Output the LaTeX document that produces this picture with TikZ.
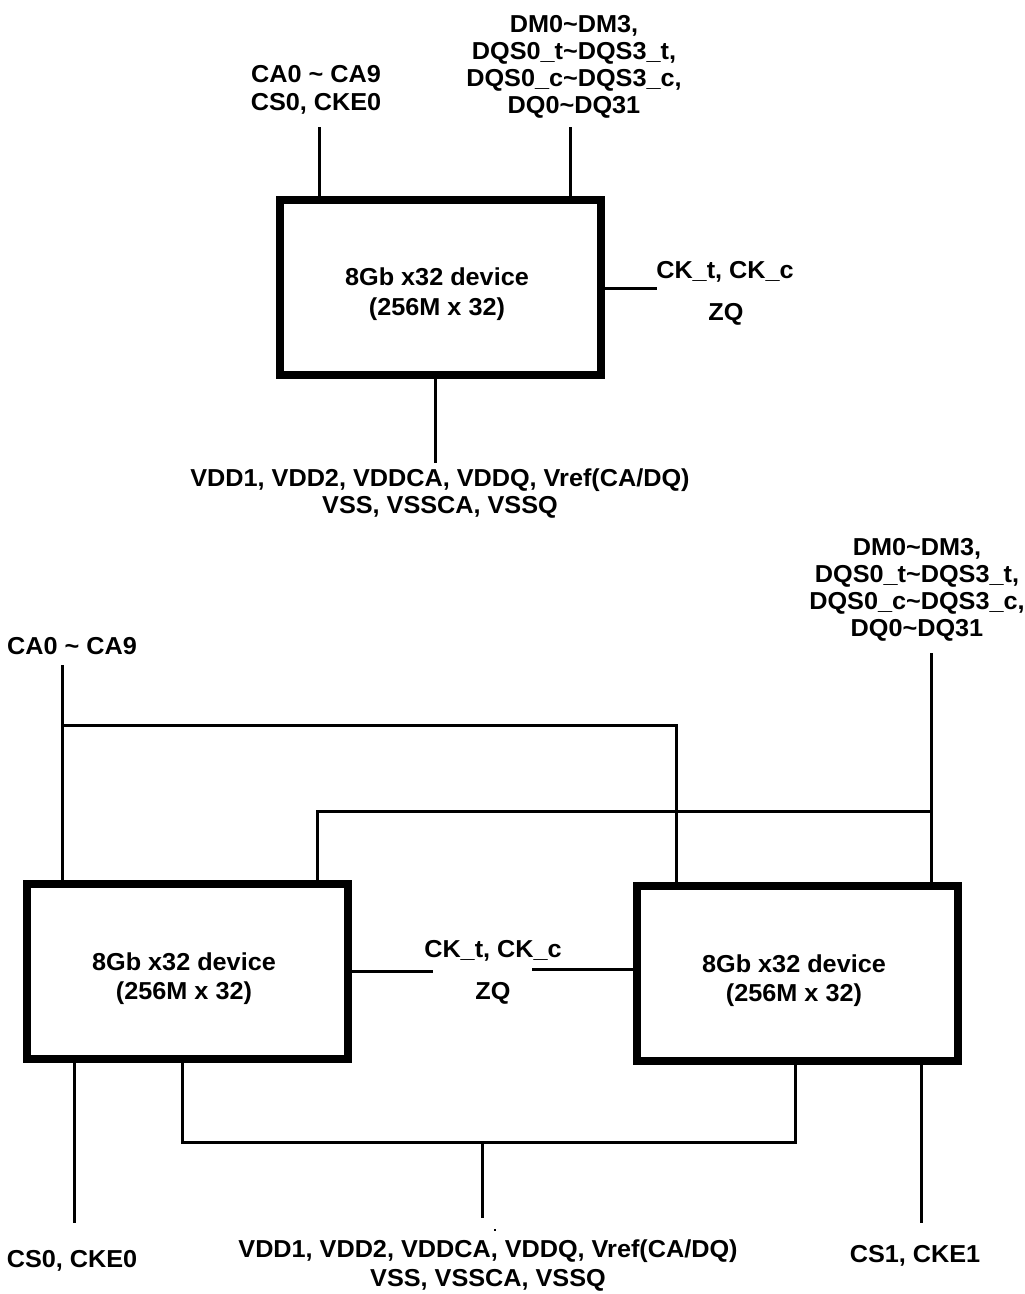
\documentclass[tikz,border=0pt]{standalone}
\usepackage{fontspec}
\setmainfont{Liberation Sans}[FakeStretch=1.03]
\newcommand{\tl}{\textasciitilde}
\begin{document}
\begin{tikzpicture}[x=1pt,y=-1pt,
  wire/.style={line width=3pt},
  chip/.style={draw, line width=8pt, minimum width=321pt, minimum height=175pt, inner sep=0pt},
  lbl/.style={font=\fontsize{24.5}{28}\selectfont\bfseries, inner sep=0pt, anchor=base}]
\useasboundingbox[fill=white] (0,0) rectangle (1025,1294);

% ---------- single device ----------
\node[chip] (t1) at (440.5,287.5) {};
\node[lbl] (t1a) at (437,285) {8Gb x32 device};
\node[lbl] (t1b) at (437,315) {(256M x 32)};

\node[lbl] (tca1) at (316,82) {CA0 \tl{} CA9};
\node[lbl] (tca2) at (316,110) {CS0, CKE0};
\node[lbl] (tdq1) at (574,32) {DM0\tl{}DM3,};
\node[lbl] (tdq2) at (574,59) {DQS0\_t\tl{}DQS3\_t,};
\node[lbl] (tdq3) at (574,86) {DQS0\_c\tl{}DQS3\_c,};
\node[lbl] (tdq4) at (574,113) {DQ0\tl{}DQ31};
\node[lbl] (tck1) at (725,278) {CK\_t, CK\_c};
\node[lbl] (tck2) at (726,320) {ZQ};
\node[lbl] (tpw1) at (440,486) {VDD1, VDD2, VDDCA, VDDQ, Vref(CA/DQ)};
\node[lbl] (tpw2) at (440,513) {VSS, VSSCA, VSSQ};

\coordinate (caA) at (319,127);
\coordinate (dqA) at (570,127);
\coordinate (ckA) at (657,288);
\coordinate (pwA) at (435,463);

\draw[wire] (caA) -- (caA |- t1.north);
\draw[wire] (dqA) -- (dqA |- t1.north);
\draw[wire] (t1.east |- ckA) -- (ckA);
\draw[wire] (t1.south -| pwA) -- (pwA);

% ---------- dual device ----------
\node[chip] (l1) at (187.5,971.5) {};
\node[chip] (r1) at (797.5,973.5) {};
\node[lbl] (l1a) at (184,970) {8Gb x32 device};
\node[lbl] (l1b) at (184,999) {(256M x 32)};
\node[lbl] (r1a) at (794,972) {8Gb x32 device};
\node[lbl] (r1b) at (794,1001) {(256M x 32)};

\node[lbl] (bca) at (72,654) {CA0 \tl{} CA9};
\node[lbl] (bdq1) at (917,555) {DM0\tl{}DM3,};
\node[lbl] (bdq2) at (917,582) {DQS0\_t\tl{}DQS3\_t,};
\node[lbl] (bdq3) at (917,609) {DQS0\_c\tl{}DQS3\_c,};
\node[lbl] (bdq4) at (917,636) {DQ0\tl{}DQ31};
\node[lbl] (bck1) at (493,957) {CK\_t, CK\_c};
\node[lbl] (bck2) at (493,999) {ZQ};
\node[lbl] (bcs0) at (72,1267) {CS0, CKE0};
\node[lbl] (bcs1) at (915,1262) {CS1, CKE1};
\node[lbl] (bpw1) at (488,1257) {VDD1, VDD2, VDDCA, VDDQ, Vref(CA/DQ)};
\node[lbl] (bpw2) at (488,1286) {VSS, VSSCA, VSSQ};

\coordinate (caB) at (62,665);
\coordinate (caJ) at (62,725);
\coordinate (caR) at (676,725);
\coordinate (dqB) at (931,653);
\coordinate (dqJ) at (931,811);
\coordinate (dqL) at (317,811);
\coordinate (ckL) at (433,971);
\coordinate (ckR) at (532,969);
\coordinate (cs0) at (74,1223);
\coordinate (pwL) at (182,1142);
\coordinate (pwR) at (795,1142);
\coordinate (pwM) at (482,1142);
\coordinate (pwE) at (482,1218);
\coordinate (cs1) at (921,1223);

\draw[wire] (caB) -- (caB |- l1.north);
\draw[wire] (caJ) -- (caR) -- (caR |- r1.north);
\draw[wire] (dqB) -- (dqB |- r1.north);
\draw[wire] (dqJ) -- (dqL) -- (dqL |- l1.north);
\draw[wire] (l1.east |- ckL) -- (ckL);
\draw[wire] (ckR) -- (r1.west |- ckR);
\draw[wire] (l1.south -| cs0) -- (cs0);
\draw[wire] (l1.south -| pwL) -- (pwL) -- (pwR) -- (r1.south -| pwR);
\draw[wire] (pwM) -- (pwE);
\draw[wire] (r1.south -| cs1) -- (cs1);
\fill (494,1229) rectangle (496,1231);
\end{tikzpicture}
\end{document}
